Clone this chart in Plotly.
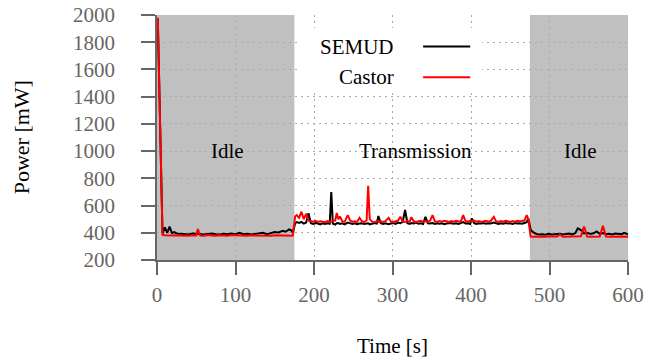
import plotly.graph_objects as go

# ---------------- data ----------------
time_s = [
    1, 7, 10, 13, 16, 19, 22, 25, 30, 35,
    40, 45, 50, 52, 55, 60, 65, 70, 75, 80,
    85, 90, 95, 100, 105, 110, 115, 120, 125, 130,
    135, 140, 145, 150, 155, 160, 164, 168, 171, 173,
    176, 178, 181, 184, 187, 190, 193, 196, 199, 202,
    205, 208, 211, 214, 217, 220, 222, 224, 227, 229,
    231, 233, 236, 239, 243, 246, 249, 252, 255, 258,
    261, 264, 267, 269, 271, 274, 277, 280, 282, 285,
    288, 291, 295, 298, 301, 304, 307, 310, 313, 316,
    319, 322, 324, 327, 330, 333, 336, 339, 342, 345,
    348, 351, 354, 357, 360, 363, 366, 369, 372, 375,
    378, 381, 384, 387, 390, 393, 396, 399, 401, 404,
    407, 410, 413, 416, 419, 422, 425, 429, 432, 435,
    438, 441, 444, 447, 450, 453, 456, 459, 462, 465,
    468, 471, 473,
    476, 479, 483, 487, 491, 495, 499, 503, 507, 510,
    513, 517, 521, 525, 529, 533, 536, 540, 544, 548,
    552, 556, 560, 564, 568, 572, 576, 580, 584, 588,
    592, 595, 600,
]

semud_mw = [
    1975, 395, 440, 400, 445, 398, 405, 395, 392, 390,
    388, 395, 392, 390, 393, 388, 392, 395, 390, 388,
    393, 390, 395, 388, 400, 390, 393, 388, 392, 395,
    400, 390, 395, 405, 402, 415, 408, 425, 418, 400,
    470, 478, 472, 480, 468, 475, 543, 470, 465, 472,
    468, 462, 470, 465, 470, 466, 700, 468, 460, 470,
    472, 465, 470, 462, 475, 468, 465, 470, 463, 468,
    470, 465, 468, 470, 462, 466, 472, 468, 523, 470,
    465, 470, 463, 468, 472, 465, 475, 470, 480, 567,
    470, 465, 472, 468, 475, 466, 470, 465, 518, 470,
    468, 472, 465, 470, 466, 470, 463, 468, 472, 470,
    466, 470, 465, 472, 478, 468, 470, 465, 506, 470,
    465, 470, 468, 472, 466, 470, 468, 475, 470, 465,
    470, 466, 472, 468, 470, 465, 472, 468, 470, 466,
    472, 478, 505,
    420, 405, 392, 388, 390, 386, 392, 388, 390, 387,
    392, 388, 390, 395, 388, 398, 432, 420, 395, 400,
    392, 396, 410, 392, 398, 390, 393, 388, 395, 392,
    390, 400, 388,
]

castor_mw = [
    1980, 385, 382, 380, 383, 380, 381, 380, 379, 382,
    378, 381, 380, 428, 380, 379, 383, 380, 378, 382,
    380, 379, 383, 381, 380, 382, 379, 381, 380, 383,
    378, 381, 379, 382, 380, 378, 381, 380, 379, 378,
    520, 530, 510, 555, 500, 540, 490, 485, 482, 488,
    480, 485, 482, 478, 486, 480, 482, 488, 490, 545,
    500, 520, 485, 480, 530, 490, 482, 485, 480, 510,
    484, 480, 490, 745, 500, 482, 478, 485, 480, 484,
    480, 486, 510, 482, 480, 485, 490, 518, 484, 480,
    486, 482, 515, 484, 480, 485, 488, 482, 486, 480,
    490, 530, 484, 480, 486, 482, 488, 484, 480, 486,
    482, 488, 484, 480, 530, 486, 482, 488, 484, 490,
    482, 486, 480, 484, 488, 482, 486, 517, 484, 480,
    486, 482, 488, 484, 480, 486, 482, 488, 484, 486,
    490, 530, 500,
    372, 370, 373, 371, 372, 370, 374, 371, 373, 372,
    389, 371, 372, 370, 373, 371, 372, 375, 445, 372,
    371, 373, 370, 372, 452, 373, 371, 372, 370, 373,
    371, 372, 370,
]

assert len(time_s) == len(semud_mw) == len(castor_mw)

series_names = ["SEMUD", "Castor"]
series_colors = ["#000000", "#ff0000"]

phase_labels = ["Idle", "Transmission", "Idle"]
phase_bounds = [(0, 175), (175, 475), (475, 600)]
phase_shaded = [True, False, True]

x_ticks = [0, 100, 200, 300, 400, 500, 600]
y_ticks = [200, 400, 600, 800, 1000, 1200, 1400, 1600, 1800, 2000]

# ---------------- figure ----------------
FONT = "Liberation Serif"
fig = go.Figure()

fig.add_trace(go.Scatter(x=time_s, y=semud_mw, mode="lines", name=series_names[0],
                         line=dict(color=series_colors[0], width=2), showlegend=False))
fig.add_trace(go.Scatter(x=time_s, y=castor_mw, mode="lines", name=series_names[1],
                         line=dict(color=series_colors[1], width=2), showlegend=False))

# shaded phases
for (x0, x1), shaded in zip(phase_bounds, phase_shaded):
    if shaded:
        fig.add_shape(type="rect", xref="x", yref="y", x0=x0, x1=x1, y0=200, y1=2000,
                      fillcolor="#c0c0c0", line=dict(width=0), layer="below")

# phase labels
label_x = [90, 329, 540]
for lab, lx in zip(phase_labels, label_x):
    fig.add_annotation(x=lx, y=1000, xref="x", yref="y", text=lab, showarrow=False,
                       font=dict(family=FONT, size=21, color="#000"))

# legend (text left of line sample), white box
fig.add_shape(type="rect", xref="x", yref="y", x0=182, x1=414, y0=1440, y1=1905,
              fillcolor="white", line=dict(width=0), layer="between")
leg_y = [1768, 1542]
for name, col, ly in zip(series_names, series_colors, leg_y):
    fig.add_annotation(x=304, y=ly, xref="x", yref="y", text=name, showarrow=False,
                       xanchor="right", font=dict(family=FONT, size=21, color="#000"))
    fig.add_shape(type="line", xref="x", yref="y", x0=339, x1=399, y0=ly, y1=ly,
                  line=dict(color=col, width=2), layer="above")

# axis titles
fig.add_annotation(xref="paper", yref="paper", x=-0.287, y=0.5, text="Power [mW]",
                   textangle=-90, showarrow=False, xanchor="center", yanchor="middle",
                   font=dict(family=FONT, size=22, color="#000"))
fig.add_annotation(xref="paper", yref="paper", x=0.5, y=-0.352, text="Time [s]",
                   showarrow=False, xanchor="center", yanchor="middle",
                   font=dict(family=FONT, size=21, color="#000"))

axis_common = dict(
    showline=True, linecolor="#666", linewidth=1.5,
    ticks="outside", tickcolor="#666", tickwidth=1.5,
    showgrid=True, gridcolor="#aaaaaa", griddash="2px,4px", gridwidth=1,
    zeroline=False, automargin=False, ticklabeloverflow="allow",
    tickfont=dict(family=FONT, size=21, color="#666"),
)

fig.update_xaxes(range=[0, 600], tickvals=x_ticks, ticklen=13, ticklabelstandoff=2,
                 **axis_common)
fig.update_yaxes(range=[200, 2000], tickvals=y_ticks, ticklen=14, ticklabelstandoff=22,
                 **axis_common)

fig.update_layout(
    width=655, height=360,
    margin=dict(l=157, r=27, t=15, b=100),
    plot_bgcolor="white", paper_bgcolor="white",
    showlegend=False,
)

# remove the default 8px page margin so the figure fills the window exactly
fig.write_html(
    "out.html",
    config={"displayModeBar": False},
    post_script="document.body.style.margin='0';document.body.style.overflow='hidden';",
)
